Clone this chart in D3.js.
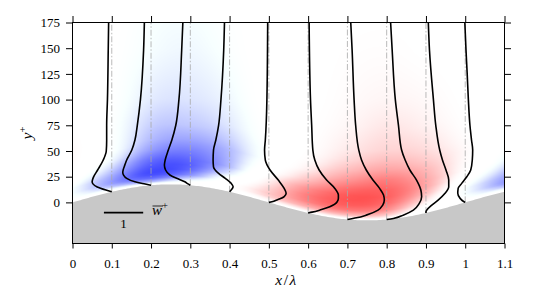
<!DOCTYPE html>
<html>
<head>
<meta charset="utf-8">
<script src="https://cdn.jsdelivr.net/npm/d3@7"></script>
<style>
  body { margin: 0; background: #fff; }
  svg text { font-family: "Liberation Serif", "DejaVu Serif", serif; }
</style>
</head>
<body>
<div id="chart"></div>
<script>
// Phase-averaged spanwise velocity over a wavy wall: profiles + colour field

// profile stations (x/lambda)
const stations = [0.1, 0.2, 0.3, 0.4, 0.5, 0.6, 0.7, 0.8, 0.9, 1.0];

// each profile: [y+, w+], from the wall upwards
const p01 = [[10.3, 0], [12, -0.15], [15, -0.37], [18, -0.48], [20, -0.5], [22, -0.49], [25, -0.46], [31.5, -0.36],
  [41, -0.22], [50, -0.14], [60, -0.13], [75, -0.13], [100, -0.11], [148, -0.09], [175, -0.08]];
const p02 = [[16.6, 0], [17.8, -0.15], [20, -0.41], [23.4, -0.62], [26.6, -0.70], [29, -0.72], [31.5, -0.71],
  [36, -0.67], [41.2, -0.62], [50.9, -0.49], [60.7, -0.41], [75, -0.35], [100, -0.27], [148, -0.19], [175, -0.17]];
const p03 = [[16.6, 0], [18, -0.06], [20, -0.14], [23.4, -0.35], [26.6, -0.52], [31.5, -0.63], [36.3, -0.66],
  [41.2, -0.64], [50.9, -0.56], [60.7, -0.47], [75, -0.37], [100, -0.29], [148, -0.22], [175, -0.19]];
const p04 = [[10.3, 0], [12, 0.04], [15.2, 0.09], [18.5, 0.04], [23.4, -0.11], [28.2, -0.28], [34.6, -0.41],
  [41.2, -0.42], [50.9, -0.41], [60.7, -0.35], [75, -0.28], [100, -0.22], [148, -0.15], [175, -0.13]];
const p05 = [[0, 0], [0.6, 0.08], [2.2, 0.2], [5.5, 0.39], [8.8, 0.44], [13.6, 0.39], [21.7, 0.24], [31.5, 0.03],
  [41.2, -0.09], [50.9, -0.11], [60.7, -0.09], [100, -0.05], [175, -0.03]];
const p06 = [[-10.3, 0], [-9.5, 0.1], [-7.5, 0.3], [-4.3, 0.55], [0.6, 0.74], [4, 0.77], [7.1, 0.77], [13.6, 0.68],
  [21.7, 0.47], [31.5, 0.28], [41.2, 0.17], [50.9, 0.12], [75, 0.09], [100, 0.06], [175, 0.025]];
const p07 = [[-16.6, 0], [-15, 0.23], [-12.4, 0.48], [-7.5, 0.78], [-2.6, 0.9], [2.2, 0.94], [7.1, 0.92], [13.6, 0.82],
  [21.7, 0.65], [31.5, 0.48], [41.2, 0.36], [50.9, 0.29], [75, 0.21], [100, 0.17], [148, 0.12], [175, 0.085]];
const p08 = [[-16.6, 0], [-15.6, 0.17], [-12.4, 0.42], [-7.5, 0.68], [-1, 0.83], [5.5, 0.89], [12, 0.87], [21.7, 0.76],
  [31.5, 0.59], [41.2, 0.47], [50.9, 0.38], [75, 0.3], [100, 0.22], [148, 0.14], [175, 0.1]];
const p09 = [[-10.3, 0], [-9, 0.0], [-7.5, 0.02], [-2.6, 0.15], [2.2, 0.31], [8.6, 0.48], [15.2, 0.58], [21.7, 0.58],
  [31.5, 0.51], [41.2, 0.42], [50.9, 0.35], [75, 0.25], [100, 0.19], [148, 0.09], [175, 0.06]];
const p10 = [[0, 0], [0.6, -0.03], [3.9, -0.13], [8.8, -0.19], [13.6, -0.18], [18.5, -0.09], [24.9, 0.04], [31.5, 0.14],
  [41.2, 0.18], [50.9, 0.19], [60.7, 0.16], [75, 0.12], [100, 0.08], [125, 0.05], [148, 0.02], [175, -0.01]];
const profiles = [p01, p02, p03, p04, p05, p06, p07, p08, p09, p10];

const xTicks = [0, 0.1, 0.2, 0.3, 0.4, 0.5, 0.6, 0.7, 0.8, 0.9, 1.0, 1.1];
const xTickLabels = ["0", "0.1", "0.2", "0.3", "0.4", "0.5", "0.6", "0.7", "0.8", "0.9", "1", "1.1"];
const yTicks = [0, 25, 50, 75, 100, 125, 150, 175];

const WAVE_AMP = 17.5;    // wall amplitude in wall units
const W_SCALE = 0.1;      // one unit of w+ spans 0.1 in x/lambda

const width = 557, height = 292;
const x = d3.scaleLinear([0, 1.1], [72.5, 504.5]);
const y = d3.scaleLinear([-40, 175], [243.5, 22.5]);
const wall = xv => WAVE_AMP * Math.sin(2 * Math.PI * xv);

const svg = d3.select("#chart").append("svg")
  .attr("width", width)
  .attr("height", height);

// ---- colour field, built from the profiles (periodic in x, wall-following in y) ----
const zProfiles = profiles.map((pts, i) => pts.map(p => [p[0] - wall(stations[i]), p[1]]));

function wAt(pts, z) {
  if (z <= pts[0][0]) return pts[0][1];
  for (let i = 1; i < pts.length; i++) {
    if (z <= pts[i][0]) {
      const t = (z - pts[i - 1][0]) / (pts[i][0] - pts[i - 1][0]);
      return pts[i - 1][1] + t * (pts[i][1] - pts[i - 1][1]);
    }
  }
  return pts[pts.length - 1][1];
}

function fieldAt(xv, z) {
  const n = stations.length;
  let u = ((xv - stations[0]) % 1 + 1) % 1 / 0.1;
  const k = Math.floor(u), t = u - k;
  const v = j => wAt(zProfiles[((j % n) + n) % n], z);
  const a = v(k - 1), b = v(k), c = v(k + 1), d = v(k + 2);
  return 0.5 * (2 * b + (-a + c) * t + (2 * a - 5 * b + 4 * c - d) * t * t + (-a + 3 * b - 3 * c + d) * t * t * t);
}

// colour intensity: soft threshold, then linear
const C_CUT = 0.2, C_KNEE = 0.12, C_NEG = 0.7, C_POS = 1.1;
function intensity(m, span) {
  const d = m - C_CUT;
  let t;
  if (d <= -C_KNEE) t = 0;
  else if (d < C_KNEE) t = (d + C_KNEE) * (d + C_KNEE) / (4 * C_KNEE * span);
  else t = d / span;
  return Math.min(1, t);
}
function colour(w) {
  if (w < 0) {
    const g = Math.round(255 * (1 - intensity(-w, C_NEG)));
    return [g, Math.min(255, g + 8), 255];
  }
  const g = Math.round(255 * (1 - intensity(w, C_POS)));
  return [255, g, g];
}

const x0px = Math.round(x(0)), y0px = Math.round(y(175));
const fw = Math.round(x(1.1)) - x0px, fh = Math.round(y(-40)) - y0px;
const canvas = document.createElement("canvas");
canvas.width = fw; canvas.height = fh;
const ctx = canvas.getContext("2d");
const img = ctx.createImageData(fw, fh);
for (let j = 0; j < fh; j++) {
  const yv = y.invert(y0px + j + 0.5);
  for (let i = 0; i < fw; i++) {
    const xv = x.invert(x0px + i + 0.5);
    const z = yv - wall(xv);
    const c = z < 0 ? [255, 255, 255] : colour(fieldAt(xv, z));
    const o = (j * fw + i) * 4;
    img.data[o] = c[0]; img.data[o + 1] = c[1]; img.data[o + 2] = c[2]; img.data[o + 3] = 255;
  }
}
ctx.putImageData(img, 0, 0);
svg.append("image")
  .attr("x", x0px).attr("y", y0px)
  .attr("width", fw).attr("height", fh)
  .attr("href", canvas.toDataURL());

// ---- wall ----
const wallXs = d3.range(0, 1.1001, 0.005);
svg.append("path")
  .datum(wallXs)
  .attr("fill", "#c8c8c8")
  .attr("d", d3.area().x(d => x(d)).y0(y(-40)).y1(d => y(wall(d))));

// ---- station lines and profiles ----
svg.append("g").selectAll("line")
  .data(stations)
  .join("line")
  .attr("x1", d => x(d)).attr("x2", d => x(d))
  .attr("y1", d => y(wall(d))).attr("y2", y(175))
  .attr("stroke", "#a8a8a8")
  .attr("stroke-width", 0.8)
  .attr("stroke-dasharray", "6,2,1.5,2");

const profileLine = (x0) => d3.line()
  .x(d => x(x0 + d[1] * W_SCALE))
  .y(d => y(d[0]))
  .curve(d3.curveMonotoneY);

svg.append("g").selectAll("path")
  .data(profiles)
  .join("path")
  .attr("fill", "none")
  .attr("stroke", "#000")
  .attr("stroke-width", 1.6)
  .attr("d", (d, i) => profileLine(stations[i])(d));

// ---- axes ----
const tickFont = g => g.attr("font-family", null).attr("font-size", 13)
  .call(g => g.select(".domain").remove())
  .call(g => g.selectAll("line").attr("stroke", "#000"))
  .call(g => g.selectAll("text").attr("fill", "#000"));

svg.append("g")
  .attr("transform", `translate(0,${y(-40)})`)
  .call(d3.axisBottom(x).tickValues(xTicks).tickFormat((d, i) => xTickLabels[i]).tickSize(5).tickPadding(10))
  .call(tickFont);
svg.append("g")
  .attr("transform", `translate(0,${y(175)})`)
  .call(d3.axisTop(x).tickValues(xTicks).tickFormat("").tickSize(6.5))
  .call(tickFont);
svg.append("g")
  .attr("transform", `translate(${x(0)},0)`)
  .call(d3.axisLeft(y).tickValues(yTicks).tickSize(6.5).tickPadding(6))
  .call(tickFont);
svg.append("g")
  .attr("transform", `translate(${x(1.1)},0)`)
  .call(d3.axisRight(y).tickValues(yTicks).tickFormat("").tickSize(6.5))
  .call(tickFont);

svg.append("rect")
  .attr("x", x(0)).attr("y", y(175))
  .attr("width", x(1.1) - x(0)).attr("height", y(-40) - y(175))
  .attr("fill", "none").attr("stroke", "#000").attr("stroke-width", 1);

// ---- axis titles ----
const xt = svg.append("text")
  .attr("x", (x(0) + x(1.1)) / 2 - 2).attr("y", 285)
  .attr("text-anchor", "middle").attr("font-size", 15.5)
  .attr("letter-spacing", 1.5);
xt.append("tspan").attr("font-style", "italic").text("x");
xt.append("tspan").text("/");
xt.append("tspan").attr("font-style", "italic").text("λ");

const yt = svg.append("text")
  .attr("transform", `translate(32,${(y(-40) + y(175)) / 2}) rotate(-90)`)
  .attr("text-anchor", "middle").attr("font-size", 15.5);
yt.append("tspan").attr("font-style", "italic").text("y");
yt.append("tspan").attr("font-size", 10.5).attr("dy", -6).text("+");

// ---- scale bar legend ----
svg.append("line")
  .attr("x1", x(0.08)).attr("x2", x(0.08 + 1 * W_SCALE))
  .attr("y1", y(-10)).attr("y2", y(-10))
  .attr("stroke", "#000").attr("stroke-width", 1.8);
svg.append("text")
  .attr("x", x(0.08 + 0.5 * W_SCALE)).attr("y", 228)
  .attr("text-anchor", "middle").attr("font-size", 13)
  .text("1");
const lw = svg.append("text")
  .attr("x", 152).attr("y", 215).attr("font-size", 15);
lw.append("tspan").attr("font-style", "italic").text("w");
lw.append("tspan").attr("font-size", 10.5).attr("dy", -6).text("+");
svg.append("line")
  .attr("x1", 152.5).attr("x2", 163).attr("y1", 206).attr("y2", 206)
  .attr("stroke", "#000").attr("stroke-width", 0.8);
</script>
</body>
</html>
